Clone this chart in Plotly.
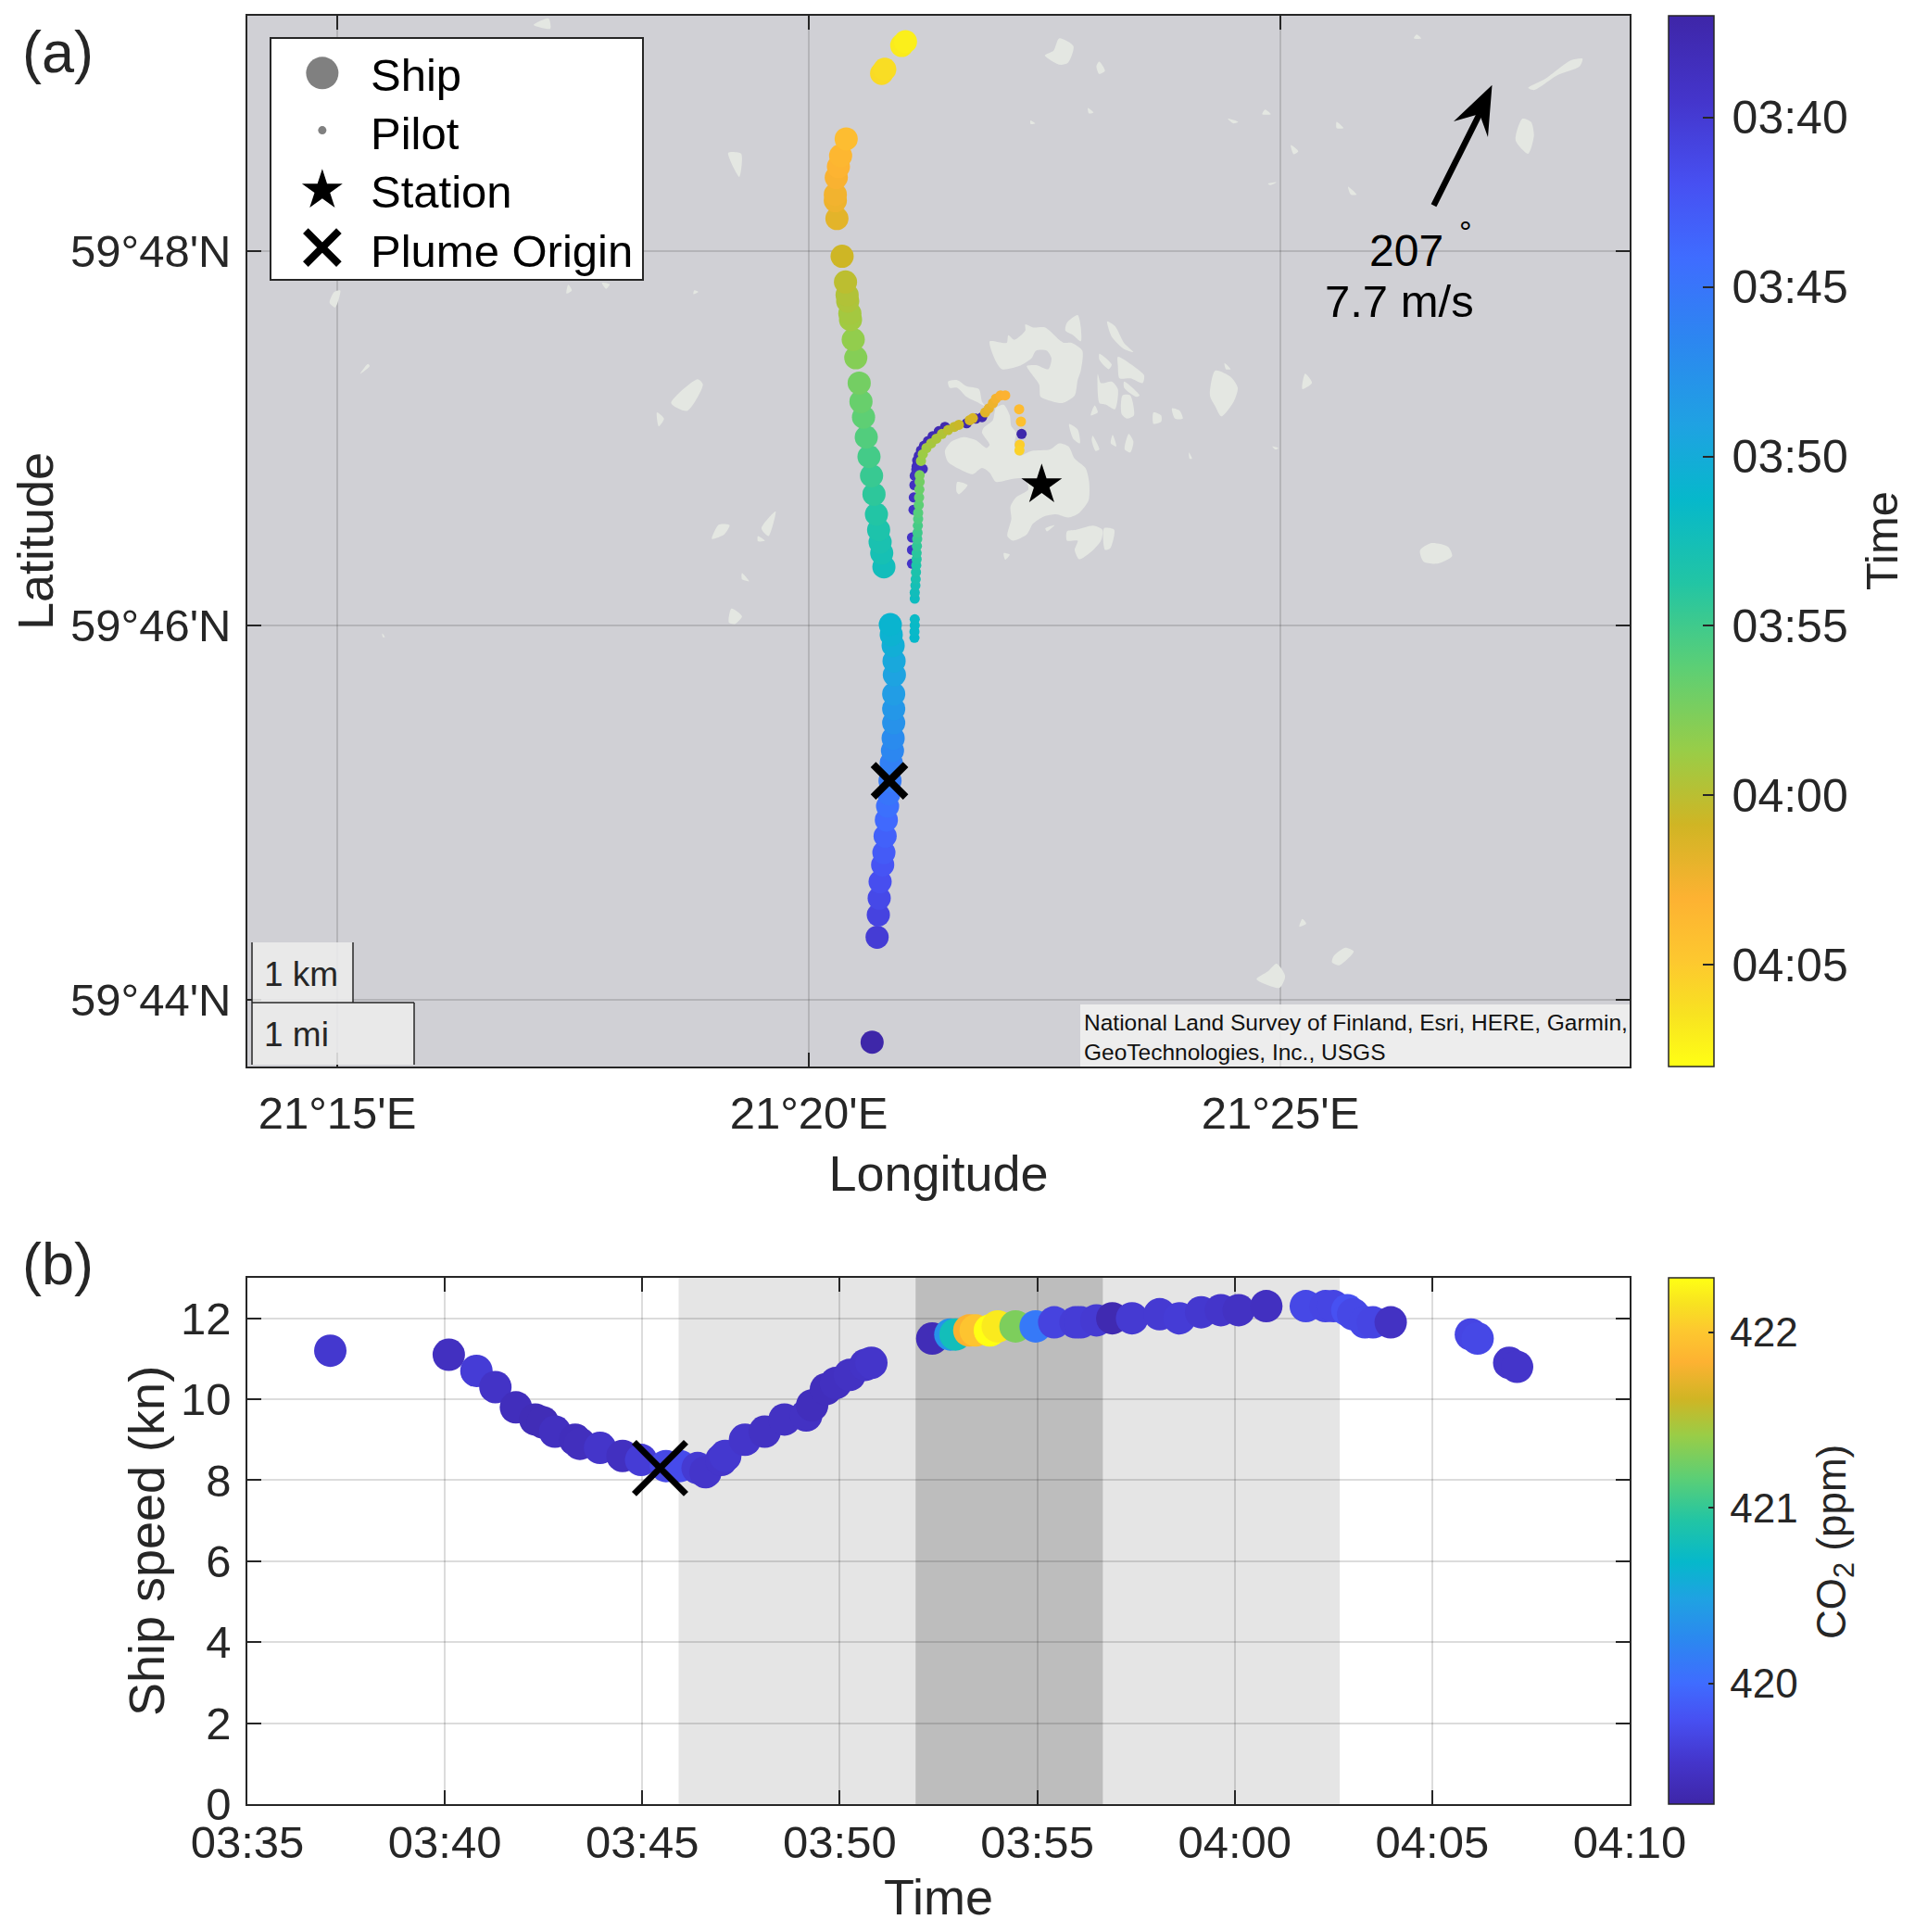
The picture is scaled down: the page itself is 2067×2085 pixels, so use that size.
import plotly.graph_objects as go

# page offset: the browser body keeps its 8 px margin
W = 2051
H = 2069

FONT = 'Liberation Sans'
INK = '#262626'
GRID = 'rgba(38,38,38,0.16)'

# Map: longitude = 21 deg + minutes, latitude = 59 deg + minutes
ship_time = [37.1, 40.1, 40.8, 41.3, 41.8, 42.3, 42.8, 43.3, 43.9, 44.5, 45.0, 45.5, 46.0, 46.6, 47.0,
             47.6, 48.1, 48.6, 49.15, 49.65, 50.25, 50.65, 50.9,
             52.3, 52.7, 53.0, 53.3, 53.7, 54.2, 54.7, 55.2, 55.8, 56.3, 56.7, 57.2, 57.9,
             58.4, 59.0, 59.15, 59.5, 59.65, 60.1, 60.8, 61.8, 62.3, 62.5, 62.85, 63.2, 63.5, 63.95,
             66.0, 66.15, 66.95, 67.15]
ship_lon = [20.671, 20.724, 20.737, 20.746, 20.756, 20.783, 20.796, 20.809, 20.822, 20.835, 20.848, 20.861, 20.874,
            20.887, 20.894, 20.900, 20.900, 20.900, 20.907, 20.904, 20.894, 20.874, 20.864,
            20.796, 20.773, 20.756, 20.740, 20.717, 20.691, 20.665, 20.638, 20.609, 20.580, 20.553, 20.534, 20.498,
            20.471, 20.442, 20.435, 20.412, 20.406, 20.389, 20.353, 20.298, 20.281, 20.281, 20.291, 20.314, 20.337, 20.396,
            20.772, 20.805, 20.985, 21.025]
ship_lat = [43.774, 44.335, 44.454, 44.543, 44.631, 44.721, 44.787, 44.875, 44.961, 45.035, 45.101, 45.170, 45.266,
            45.332, 45.398, 45.480, 45.555, 45.634, 45.736, 45.810, 45.893, 45.951, 46.005,
            46.313, 46.387, 46.445, 46.511, 46.594, 46.701, 46.800, 46.902, 47.006, 47.113, 47.196, 47.295, 47.430,
            47.527, 47.634, 47.667, 47.733, 47.766, 47.835, 47.972, 48.174, 48.269, 48.302, 48.393, 48.451, 48.509, 48.599,
            48.949, 48.971, 49.098, 49.119]

pilot_time = [37.2, 37.3, 37.4, 37.5, 37.6, 37.7, 37.8, 37.9, 38.0, 38.1, 38.2, 38.3, 38.4, 38.5, 38.6, 38.7, 38.8, 38.9,
              39.0, 39.1, 39.2, 39.3,
              51.3, 51.4, 51.5, 51.6,
              52.0, 52.3, 52.6, 52.9, 53.2, 53.5, 53.8, 54.1, 54.4, 54.7, 55.0, 55.3, 55.6, 55.9, 56.2, 56.5, 56.8, 57.1, 57.4,
              58.6, 58.8, 59.0, 59.2, 59.4, 59.6, 60.0, 60.3, 60.6, 61.0, 61.2, 61.7, 62.0, 62.3, 62.6, 62.9, 63.0,
              63.8, 64.2, 65.2, 65.5]
pilot_lon = [22.256, 21.837, 21.771, 21.673, 21.444, 21.378, 21.313, 21.264, 21.221, 21.189, 21.166, 21.149, 21.143,
             21.208, 21.140, 21.123, 21.120, 21.113, 21.110, 21.094, 21.094, 21.094,
             21.120, 21.120, 21.123, 21.123,
             21.123, 21.123, 21.130, 21.133, 21.136, 21.139, 21.143, 21.143, 21.146, 21.149, 21.153, 21.156, 21.159, 21.159,
             21.166, 21.169, 21.172, 21.175, 21.175,
             21.189, 21.208, 21.247, 21.297, 21.352, 21.411, 21.477, 21.542, 21.591, 21.706, 21.739, 21.870, 21.909, 21.952,
             21.984, 22.033, 22.082,
             22.230, 22.249, 22.236, 22.233]
pilot_lat = [47.023, 47.113, 47.105, 47.080, 47.061, 47.038, 47.011, 46.985, 46.960, 46.935, 46.907, 46.882, 46.849,
             46.836, 46.833, 46.800, 46.750, 46.684, 46.618, 46.470, 46.404, 46.330,
             45.934, 45.967, 46.000, 46.033,
             46.143, 46.176, 46.214, 46.247, 46.285, 46.321, 46.354, 46.387, 46.424, 46.462, 46.495, 46.533, 46.569, 46.602,
             46.643, 46.684, 46.726, 46.767, 46.803,
             46.879, 46.915, 46.948, 46.973, 46.998, 47.023, 47.044, 47.061, 47.072, 47.097, 47.107, 47.138, 47.160, 47.188,
             47.212, 47.229, 47.229,
             47.155, 47.089, 46.965, 46.935]

station_lon = [22.469]
station_lat = [46.751]
origin_lon = [20.855]
origin_lat = [45.170]
origin_time = [45.45]
origin_speed = [8.3]

# Basemap islands as (lon, lat) outlines in minutes
land = [
    [(21.443, 46.932), (21.509, 46.981), (21.640, 47.006), (21.771, 46.990), (21.885, 46.948), (21.918, 46.965),
     (21.836, 47.031), (21.853, 47.056), (21.951, 47.097), (21.984, 47.163), (22.066, 47.179), (22.131, 47.122),
     (22.147, 47.064), (22.197, 47.031), (22.180, 46.965), (22.229, 46.907), (22.360, 46.932), (22.557, 46.940),
     (22.655, 46.973), (22.753, 46.957), (22.819, 46.891), (22.933, 46.841), (22.972, 46.767), (22.966, 46.668),
     (22.868, 46.602), (22.753, 46.577), (22.622, 46.594), (22.491, 46.582), (22.377, 46.544), (22.311, 46.486),
     (22.164, 46.453), (22.105, 46.478), (22.147, 46.569), (22.138, 46.635), (22.197, 46.684), (22.327, 46.726),
     (22.295, 46.783), (22.164, 46.783), (21.984, 46.767), (21.918, 46.816), (21.836, 46.841), (21.738, 46.808),
     (21.607, 46.833), (21.476, 46.874)],
    [(21.918, 47.518), (22.098, 47.510), (22.115, 47.551), (22.180, 47.526), (22.295, 47.575), (22.295, 47.608),
     (22.377, 47.592), (22.508, 47.592), (22.655, 47.526), (22.704, 47.510), (22.786, 47.510), (22.900, 47.468),
     (22.884, 47.361), (22.851, 47.312), (22.819, 47.229), (22.688, 47.188), (22.589, 47.196), (22.458, 47.221),
     (22.442, 47.287), (22.360, 47.345), (22.311, 47.386), (22.409, 47.391), (22.540, 47.369), (22.573, 47.427),
     (22.524, 47.468), (22.409, 47.468), (22.360, 47.427), (22.229, 47.386), (22.049, 47.369), (21.984, 47.410)],
    [(21.476, 47.303), (21.574, 47.311), (21.673, 47.278), (21.804, 47.262), (21.836, 47.196), (21.869, 47.171),
     (21.804, 47.188), (21.673, 47.221), (21.574, 47.270), (21.493, 47.270)],
    [(22.737, 47.617), (22.851, 47.658), (22.884, 47.592), (22.884, 47.518), (22.802, 47.551), (22.720, 47.575)],
    [(23.163, 47.625), (23.245, 47.600), (23.343, 47.509), (23.441, 47.460), (23.343, 47.476), (23.212, 47.542)],
    [(23.277, 47.435), (23.441, 47.386), (23.555, 47.336), (23.539, 47.295), (23.408, 47.320), (23.294, 47.320),
     (23.277, 47.386)],
    [(23.064, 47.344), (23.097, 47.295), (23.212, 47.303), (23.277, 47.262), (23.245, 47.155), (23.146, 47.180),
     (23.081, 47.188)],
    [(23.326, 47.229), (23.408, 47.229), (23.447, 47.122), (23.375, 47.105), (23.316, 47.130)],
    [(23.081, 47.452), (23.212, 47.394), (23.179, 47.369), (23.081, 47.419)],
    [(23.343, 47.303), (23.507, 47.229), (23.474, 47.221), (23.343, 47.270)],
    [(23.654, 47.138), (23.736, 47.122), (23.736, 47.089), (23.654, 47.077)],
    [(23.850, 47.160), (23.932, 47.147), (23.965, 47.105), (23.883, 47.105)],
    [(24.309, 47.361), (24.472, 47.328), (24.548, 47.270), (24.505, 47.196), (24.374, 47.117), (24.309, 47.171),
     (24.253, 47.229)],
    [(24.407, 47.402), (24.472, 47.369), (24.423, 47.369)],
    [(22.760, 47.077), (22.851, 47.047), (22.874, 46.973), (22.803, 46.998)],
    [(23.009, 47.014), (23.081, 46.940), (23.041, 46.932), (22.999, 46.990)],
    [(23.221, 47.019), (23.260, 46.957), (23.202, 46.973)],
    [(23.392, 47.023), (23.441, 46.982), (23.408, 46.924), (23.349, 46.940)],
    [(23.031, 47.176), (23.064, 47.138), (22.989, 47.122)],
    [(22.737, 46.503), (22.835, 46.511), (23.015, 46.533), (23.113, 46.511), (23.097, 46.453), (22.999, 46.396),
     (22.868, 46.354), (22.819, 46.404), (22.851, 46.453), (22.737, 46.453)],
    [(23.130, 46.519), (23.238, 46.511), (23.195, 46.412), (23.140, 46.404)],
    [(21.574, 46.767), (21.683, 46.750), (21.591, 46.701), (21.565, 46.717)],
    [(22.066, 46.387), (22.131, 46.379), (22.082, 46.351)],
    [(22.508, 46.519), (22.606, 46.536), (22.524, 46.503)],
    [(27.627, 48.872), (27.809, 48.921), (28.082, 49.020), (28.203, 49.028), (28.173, 48.987), (27.931, 48.938),
     (27.688, 48.860)],
    [(27.566, 48.707), (27.657, 48.690), (27.688, 48.616), (27.627, 48.520), (27.494, 48.591)],
    [(22.654, 49.136), (22.806, 49.094), (22.745, 49.004), (22.654, 48.996), (22.503, 49.045), (22.594, 49.070)],
    [(23.079, 49.012), (23.140, 48.962), (23.079, 48.946), (23.049, 48.987)],
    [(26.445, 49.157), (26.493, 49.136), (26.414, 49.136)],
    [(24.838, 48.756), (24.898, 48.731), (24.807, 48.731)],
    [(24.868, 48.360), (24.959, 48.368), (24.898, 48.352)],
    [(25.717, 48.344), (25.808, 48.302), (25.747, 48.302)],
    [(25.596, 48.690), (25.668, 48.657), (25.596, 48.657)],
    [(25.110, 48.566), (25.189, 48.533), (25.141, 48.517)],
    [(24.443, 48.707), (24.553, 48.690), (24.504, 48.682)],
    [(22.351, 48.698), (22.400, 48.682), (22.351, 48.679)],
    [(22.958, 48.764), (23.018, 48.740), (22.970, 48.735)],
    [(25.262, 47.345), (25.335, 47.296), (25.232, 47.263)],
    [(24.914, 46.957), (24.980, 46.948), (24.947, 46.940)],
    [(24.030, 46.924), (24.063, 46.891), (24.037, 46.891)],
    [(24.959, 44.193), (25.050, 44.127), (24.989, 44.064), (24.747, 44.110), (24.868, 44.152)],
    [(25.687, 44.279), (25.778, 44.259), (25.626, 44.185), (25.547, 44.201), (25.565, 44.234)],
    [(25.232, 44.432), (25.274, 44.407), (25.201, 44.391)],
    [(18.540, 47.188), (18.821, 47.315), (18.877, 47.287), (18.709, 47.146)],
    [(19.047, 46.539), (19.160, 46.536), (19.103, 46.486), (18.972, 46.462)],
    [(19.648, 46.610), (19.573, 46.478), (19.498, 46.519)],
    [(19.179, 46.090), (19.291, 46.049), (19.216, 46.008), (19.152, 46.016)],
    [(19.291, 46.280), (19.367, 46.236), (19.291, 46.247)],
    [(19.460, 46.478), (19.535, 46.453), (19.460, 46.450)],
    [(18.389, 47.138), (18.464, 47.105), (18.408, 47.064)],
    [(14.968, 47.782), (15.032, 47.790), (14.979, 47.699), (14.919, 47.724)],
    [(15.325, 47.397), (15.344, 47.386), (15.243, 47.344)],
    [(17.449, 47.820), (17.487, 47.790), (17.430, 47.773)],
    [(17.806, 47.831), (17.889, 47.823), (17.852, 47.798)],
    [(18.784, 47.790), (18.829, 47.782), (18.776, 47.770)],
    [(15.476, 45.958), (15.506, 45.938), (15.483, 45.938)],
    [(17.083, 49.208), (17.240, 49.243), (17.259, 49.188)],
    [(19.145, 48.525), (19.283, 48.520), (19.263, 48.396)],
    [(26.48, 46.40), (26.60, 46.44), (26.78, 46.42), (26.82, 46.37), (26.66, 46.33), (26.52, 46.34)],
]

# Speed panel: minutes after 03:00, knots, ppm
speed_time = [37.1, 40.1, 40.8, 41.28, 41.8, 42.29, 42.48, 42.79, 43.3, 43.42, 43.93, 44.5, 44.97, 45.6, 45.95, 46.4,
              46.6, 47.0, 47.1, 47.6, 48.1, 48.6, 49.15, 49.3, 49.65, 49.9, 50.25, 50.65, 50.8,
              52.34, 52.8, 52.93, 53.28, 53.44, 53.8, 54.0, 54.45, 54.96, 55.43, 55.97, 56.1, 56.5, 56.9, 57.4,
              58.1, 58.6, 59.15, 59.65, 60.1, 60.8, 61.8, 62.3, 62.5, 62.85, 63.0, 63.3, 63.5, 63.95,
              65.98, 66.15, 66.95, 67.15]
speed_kn = [11.2, 11.1, 10.7, 10.3, 9.8, 9.5, 9.43, 9.2, 9.0, 8.9, 8.8, 8.6, 8.5, 8.35, 8.35, 8.3,
            8.2, 8.5, 8.6, 9.0, 9.2, 9.5, 9.6, 9.85, 10.25, 10.4, 10.6, 10.85, 10.9,
            11.5, 11.6, 11.6, 11.7, 11.7, 11.7, 11.8, 11.8, 11.8, 11.9, 11.9, 11.9, 11.95, 12.0, 12.0,
            12.1, 12.0, 12.15, 12.2, 12.2, 12.3, 12.3, 12.3, 12.3, 12.2, 12.1, 11.9, 11.9, 11.9,
            11.6, 11.5, 10.9, 10.8]
speed_co2 = [419.58, 419.48, 419.62, 419.52, 419.45, 419.42, 419.42, 419.48, 419.45, 419.46, 419.55, 419.48, 419.62, 419.72, 419.75, 419.6,
             419.55, 419.55, 419.58, 419.55, 419.5, 419.5, 419.5, 419.45, 419.45, 419.48, 419.5, 419.52, 419.55,
             419.42, 420.35, 420.8, 421.82, 421.98, 422.31, 422.2, 421.3, 420.12, 419.68, 419.62, 419.62, 419.6, 419.38, 419.6,
             419.6, 419.62, 419.58, 419.55, 419.5, 419.48, 419.72, 419.7, 419.7, 419.8, 419.72, 419.72, 419.7, 419.5,
             419.7, 419.72, 419.55, 419.55]

shade_light = [45.92, 62.66]
shade_dark = [51.92, 56.66]

time_ticks = [40, 45, 50, 55, 60, 65]
time_tick_labels = ['03:40', '03:45', '03:50', '03:55', '04:00', '04:05']
speed_x_ticks = [35, 40, 45, 50, 55, 60, 65, 70]
speed_x_labels = ['03:35', '03:40', '03:45', '03:50', '03:55', '04:00', '04:05', '04:10']
speed_y_ticks = [0, 2, 4, 6, 8, 10, 12]
co2_ticks = [420, 421, 422]
co2_tick_labels = ['420', '421', '422']
lon_ticks = [15, 20, 25]
lon_labels = ["21°15'E", "21°20'E", "21°25'E"]
lat_ticks = [44, 46, 48]
lat_labels = ["59°44'N", "59°46'N", "59°48'N"]

PARULA = [
    [0.00, '#3e26a8'], [0.08, '#4435cb'], [0.16, '#4750f2'], [0.23, '#3f6cff'], [0.31, '#2c87f0'],
    [0.39, '#1fa2e2'], [0.46, '#06b8cb'], [0.54, '#22c5a4'], [0.62, '#5ccf75'], [0.70, '#99cd47'],
    [0.77, '#d0b524'], [0.84, '#fdb232'], [0.90, '#fdc82f'], [0.95, '#f8e221'], [1.00, '#ffff14'],
]


def px_x(p):
    return (p - 8) / W


def px_y(p):
    return 1 - (p - 8) / H


land_lon = []
land_lat = []
for outline in land:
    land_lon += [pt[0] for pt in outline] + [outline[0][0], None]
    land_lat += [pt[1] for pt in outline] + [outline[0][1], None]

fig = go.Figure()

# (a) map
fig.add_trace(go.Scatter(x=land_lon, y=land_lat, mode='lines', fill='toself', fillcolor='#e4e7e2',
                         line=dict(width=0, color='#e4e7e2', shape='spline', smoothing=0.7),
                         hoverinfo='skip', showlegend=False))
fig.add_trace(go.Scatter(x=pilot_lon, y=pilot_lat, mode='markers', name='Pilot track', showlegend=False,
                         marker=dict(size=11, color=[-t for t in pilot_time], coloraxis='coloraxis', line=dict(width=0))))
fig.add_trace(go.Scatter(x=ship_lon, y=ship_lat, mode='markers', name='Ship track', showlegend=False,
                         marker=dict(size=25, color=[-t for t in ship_time], coloraxis='coloraxis', line=dict(width=0))))
fig.add_trace(go.Scatter(x=station_lon, y=station_lat, mode='markers', showlegend=False,
                         marker=dict(symbol='star', size=33, color='black', line=dict(width=0))))
fig.add_trace(go.Scatter(x=origin_lon, y=origin_lat, mode='markers', showlegend=False,
                         marker=dict(symbol='x-thin', size=35, line=dict(width=8, color='black'))))

# (b) speed
fig.add_trace(go.Scatter(x=speed_time, y=speed_kn, mode='markers', xaxis='x2', yaxis='y2', showlegend=False,
                         marker=dict(size=35, color=speed_co2, coloraxis='coloraxis2', line=dict(width=0))))
fig.add_trace(go.Scatter(x=origin_time, y=origin_speed, mode='markers', xaxis='x2', yaxis='y2', showlegend=False,
                         marker=dict(symbol='x-thin', size=56, line=dict(width=7, color='black'))))

# Legend box: plotly caps legend glyphs at 16 px, so the keys get their own small axes and the names are notes
legend_names = ['Ship', 'Pilot', 'Station', 'Plume Origin']
legend_rows = [37, 99, 164, 226]
legend_symbols = ['circle', 'circle', 'star', 'x-thin']
legend_sizes = [35, 9, 33, 36]
for name, row, symbol, size in zip(legend_names, legend_rows, legend_symbols, legend_sizes):
    if symbol == 'x-thin':
        key = dict(symbol=symbol, size=size, line=dict(width=8, color='black'))
    elif symbol == 'star':
        key = dict(symbol=symbol, size=size, color='black', line=dict(width=0))
    else:
        key = dict(symbol=symbol, size=size, color='#808080', line=dict(width=0))
    fig.add_trace(go.Scatter(x=[55], y=[row], mode='markers', name=name, xaxis='x3', yaxis='y3', marker=key))

axis_style = dict(showline=True, linecolor=INK, linewidth=1.5, mirror='ticks', ticks='inside', ticklen=15,
                  tickwidth=1.5, tickcolor=INK, showgrid=True, gridcolor=GRID, gridwidth=1.5, zeroline=False,
                  automargin=False, tickfont=dict(family=FONT, size=49, color=INK))
key_axis_style = dict(showline=True, linecolor=INK, linewidth=2, mirror=True, ticks='', showticklabels=False,
                      showgrid=False, zeroline=False, automargin=False, fixedrange=True)

shapes = [
    dict(type='rect', xref='x', yref='y', x0=14.047, x1=28.703, y0=43.644, y1=49.257, layer='below',
         fillcolor='#d0d0d5', line=dict(width=0)),
    dict(type='rect', xref='x2', yref='y2 domain', x0=shade_light[0], x1=shade_light[1], y0=0, y1=1, layer='below',
         fillcolor='#e5e5e5', line=dict(width=0)),
    dict(type='rect', xref='x2', yref='y2 domain', x0=shade_dark[0], x1=shade_dark[1], y0=0, y1=1, layer='below',
         fillcolor='#bdbdbd', line=dict(width=0)),
]


def box(x0, x1, y0, y1, fill):
    return dict(type='rect', xref='paper', yref='paper', x0=px_x(x0), x1=px_x(x1), y0=px_y(y1), y1=px_y(y0),
                fillcolor=fill, line=dict(width=0), layer='above')


def seg(x0, y0, x1, y1, width=1.5, color=INK):
    return dict(type='line', xref='paper', yref='paper', x0=px_x(x0), x1=px_x(x1), y0=px_y(y0), y1=px_y(y1),
                line=dict(width=width, color=color), layer='above')


# scale bar boxes and attribution
shapes += [
    box(272, 381, 1017, 1082, 'rgba(236,236,236,0.88)'),
    box(272, 447, 1082, 1149, 'rgba(236,236,236,0.88)'),
    seg(272, 1017, 272, 1149), seg(381, 1017, 381, 1082), seg(272, 1082, 447, 1082), seg(447, 1082, 447, 1149),
    box(1166, 1759, 1084, 1151, 'rgba(240,240,240,0.9)'),
]

# wind arrow
shapes.append(seg(1547.5, 221.7, 1597, 123, width=6.5, color='black'))
head = [(1610.5, 91.7), (1569, 131), (1597, 123), (1606, 148)]
head_path = 'M ' + ' L '.join(f'{px_x(a):.5f},{px_y(b):.5f}' for a, b in head) + ' Z'
shapes.append(dict(type='path', xref='paper', yref='paper', path=head_path, fillcolor='black',
                   line=dict(width=0), layer='above'))


def note(text, x, y, size, color=INK, angle=0, anchor='center'):
    return dict(text=text, xref='paper', yref='paper', x=px_x(x), y=px_y(y), showarrow=False, textangle=angle,
                xanchor=anchor, yanchor='middle', align='left', font=dict(family=FONT, size=size, color=color))


annotations = [
    note('(a)', 62, 56, 63),
    note('(b)', 62, 1364, 63),
    note('Ship', 398, 81, 49, color='black', anchor='left'),
    note('Pilot', 398, 144, 49, color='black', anchor='left'),
    note('Station', 398, 207, 49, color='black', anchor='left'),
    note('Plume Origin', 398, 271, 49, color='black', anchor='left'),
    note('1 km', 283, 1051, 37, anchor='left'),
    note('1 mi', 283, 1116, 37, anchor='left'),
    note('National Land Survey of Finland, Esri, HERE, Garmin,<br>GeoTechnologies, Inc., USGS', 1168, 1119, 24.5,
         color='#111111', anchor='left'),
    note('207', 1518, 271, 48, color='black'),
    note('°', 1582, 250, 34, color='black'),
    note('7.7 m/s', 1510, 325, 49, color='black'),
    note('Time', 2031, 584, 49, angle=-90),
    note('CO<sub>2</sub> (ppm)', 1980, 1664, 44, angle=-90),
]

fig.update_layout(
    template='none',
    width=W, height=H, margin=dict(l=0, r=0, t=0, b=0, pad=0), autosize=False,
    paper_bgcolor='white', plot_bgcolor='white', font=dict(family=FONT, color=INK),
    shapes=shapes, annotations=annotations, showlegend=False,
    xaxis=dict(domain=[px_x(267), px_x(1759)], range=[14.047, 28.703], tickvals=lon_ticks, ticktext=lon_labels,
               anchor='y', ticklabelstandoff=6,
               title=dict(text='Longitude', font=dict(family=FONT, size=54, color=INK), standoff=21), **axis_style),
    yaxis=dict(domain=[px_y(1151), px_y(17)], range=[43.644, 49.257], tickvals=lat_ticks, ticktext=lat_labels,
               anchor='x', ticklabelstandoff=6,
               title=dict(text='Latitude', font=dict(family=FONT, size=54, color=INK), standoff=18), **axis_style),
    xaxis2=dict(domain=[px_x(267), px_x(1759)], range=[35, 70], tickvals=speed_x_ticks, ticktext=speed_x_labels,
                anchor='y2', ticklabelstandoff=-3,
                title=dict(text='Time', font=dict(family=FONT, size=54, color=INK), standoff=22), **axis_style),
    yaxis2=dict(domain=[px_y(1947), px_y(1379)], range=[0, 13], tickvals=speed_y_ticks,
                anchor='x2', ticklabelstandoff=6,
                title=dict(text='Ship speed (kn)', font=dict(family=FONT, size=54, color=INK), standoff=0), **axis_style),
    xaxis3=dict(domain=[px_x(293), px_x(693)], range=[0, 401], anchor='y3', **key_axis_style),
    yaxis3=dict(domain=[px_y(301), px_y(42)], range=[260, 0], anchor='x3', **key_axis_style),
    coloraxis=dict(
        colorscale=PARULA, reversescale=True, cmin=-68, cmax=-37,
        colorbar=dict(x=px_x(1801), xanchor='left', xpad=0, y=px_y(1151), yanchor='bottom', ypad=0,
                      lenmode='pixels', len=1134, thicknessmode='pixels', thickness=49,
                      outlinecolor=INK, outlinewidth=1.5, ticks='inside', ticklen=12, tickwidth=1.5, tickcolor=INK,
                      tickvals=[-t for t in time_ticks], ticktext=['\u2006' + t for t in time_tick_labels],
                      tickfont=dict(family=FONT, size=50, color=INK))),
    coloraxis2=dict(
        colorscale=PARULA, cmin=419.315, cmax=422.31,
        colorbar=dict(x=px_x(1801), xanchor='left', xpad=0, y=px_y(1947), yanchor='bottom', ypad=0,
                      lenmode='pixels', len=568, thicknessmode='pixels', thickness=49,
                      outlinecolor=INK, outlinewidth=1.5, ticks='inside', ticklen=6, tickwidth=1.5, tickcolor=INK,
                      tickvals=co2_ticks, ticktext=['\u2006' + t for t in co2_tick_labels],
                      tickfont=dict(family=FONT, size=44, color=INK))),
)

fig.write_html("out.html")
